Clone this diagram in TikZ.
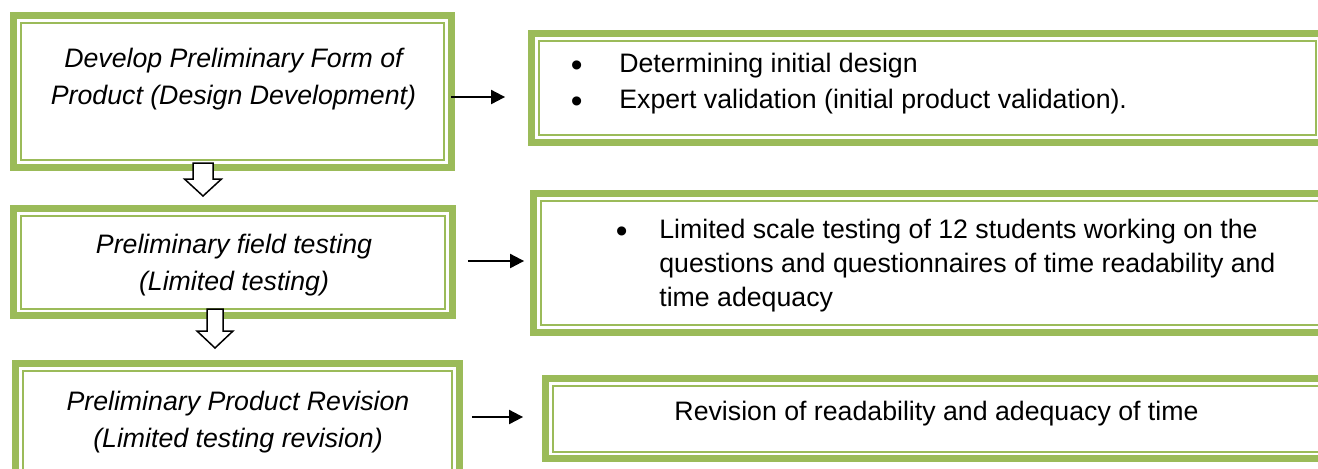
\documentclass[tikz,border=0pt]{standalone}
\usepackage{fontspec}
\setmainfont{Liberation Sans}
\usetikzlibrary{arrows.meta}
\definecolor{frmOlive}{HTML}{9BBB59}
\newcommand{\bigbullet}{\raisebox{-2.5pt}{\fontsize{19}{19}\selectfont\textbullet}}

\begin{document}
\begin{tikzpicture}[x=0.02cm, y=-0.02cm,
      font=\fontsize{15.2}{20.5}\selectfont,
      dblframe/.style={draw=frmOlive, line width=0.14cm, outer sep=0pt, inner sep=0pt},
      thinframe/.style={draw=frmOlive, line width=0.04cm},
      steptxt/.style={inner sep=0pt, align=center, font=\fontsize{15.2}{20.8}\selectfont\itshape},
      listtxt/.style={inner sep=0pt, anchor=base west},
      flow/.style={-{Triangle[length=0.28cm,width=0.28cm]}, line width=0.04cm},
      hollow/.style={draw=black, fill=white, line width=0.03cm, line join=miter}]
    \useasboundingbox (0,0) rectangle (1318,468);
    \clip (0,0) rectangle (1318,468);
    % stages
    \node[dblframe, minimum width=8.76cm, minimum height=3.04cm] (b1) at (232.5,91.5) {};
    \node[dblframe, minimum width=8.78cm, minimum height=2.14cm] (b2) at (233,262) {};
    \node[dblframe, minimum width=8.88cm, minimum height=2.3cm] (b3) at (237.5,421) {};
    % activities
    \node[dblframe, minimum width=15.84cm, minimum height=2.18cm] (r1) at (927.5,88) {};
    \node[dblframe, minimum width=15.93cm, minimum height=2.78cm] (r2) at (931.75,263) {};
    \node[dblframe, minimum width=15.69cm, minimum height=1.6cm] (r3) at (937.75,418.5) {};
    \foreach \n in {b1,b2,b3,r1,r2,r3}
      \draw[thinframe] ([shift={(0.14cm,-0.14cm)}]\n.north west) rectangle ([shift={(-0.14cm,0.14cm)}]\n.south east);
    \node[steptxt] (t1) at (233.5,79) {Develop Preliminary Form of\\Product (Design Development)};
    \node[steptxt] (t2) at (234,265) {Preliminary field testing\\(Limited testing)};
    \node[steptxt] (t3) at (238,422) {Preliminary Product Revision\\(Limited testing revision)};
    \node[listtxt] (l1) at (570.5,72) {\begin{tabular}[t]{@{}p{0.97cm}@{}l@{}}
        \bigbullet & Determining initial design\\
        \bigbullet & Expert validation (initial product validation).
      \end{tabular}};
    \node[listtxt, font=\fontsize{15.2}{19.6}\selectfont] (l2) at (615.5,238) {\begin{tabular}[t]{@{}p{0.87cm}@{}l@{}}
        \bigbullet & Limited scale testing of 12 students working on the\\
        & questions and questionnaires of time readability and\\
        & time adequacy
      \end{tabular}};
    \node[inner sep=0pt, anchor=base] (l3) at (936.5,420) {Revision of readability and adequacy of time};
    % arrows
    \draw[flow, shorten >=0.53cm] (b1.east |- 0,97) -- (r1.west |- 0,97);
    \draw[flow, shorten <=0.31cm, shorten >=0.19cm] (b2.east |- 0,261) -- (r2.west |- 0,261);
    \draw[flow, shorten <=0.25cm, shorten >=0.45cm] (b3.east |- 0,417) -- (r3.west |- 0,417);
    \coordinate (d1) at (203,163);
    \coordinate (d2) at (215,309);
    \draw[hollow] (d1) ++(-10,0) -- ++(0,16) -- ++(-8.5,0) -- ++(18.5,17) -- ++(18.5,-17) -- ++(-8.5,0) -- ++(0,-16) -- cycle;
    \draw[hollow] (d2) ++(-8,0) -- ++(0,22) -- ++(-10,0) -- ++(18,17) -- ++(18,-17) -- ++(-10,0) -- ++(0,-22) -- cycle;
  \end{tikzpicture}
\end{document}
